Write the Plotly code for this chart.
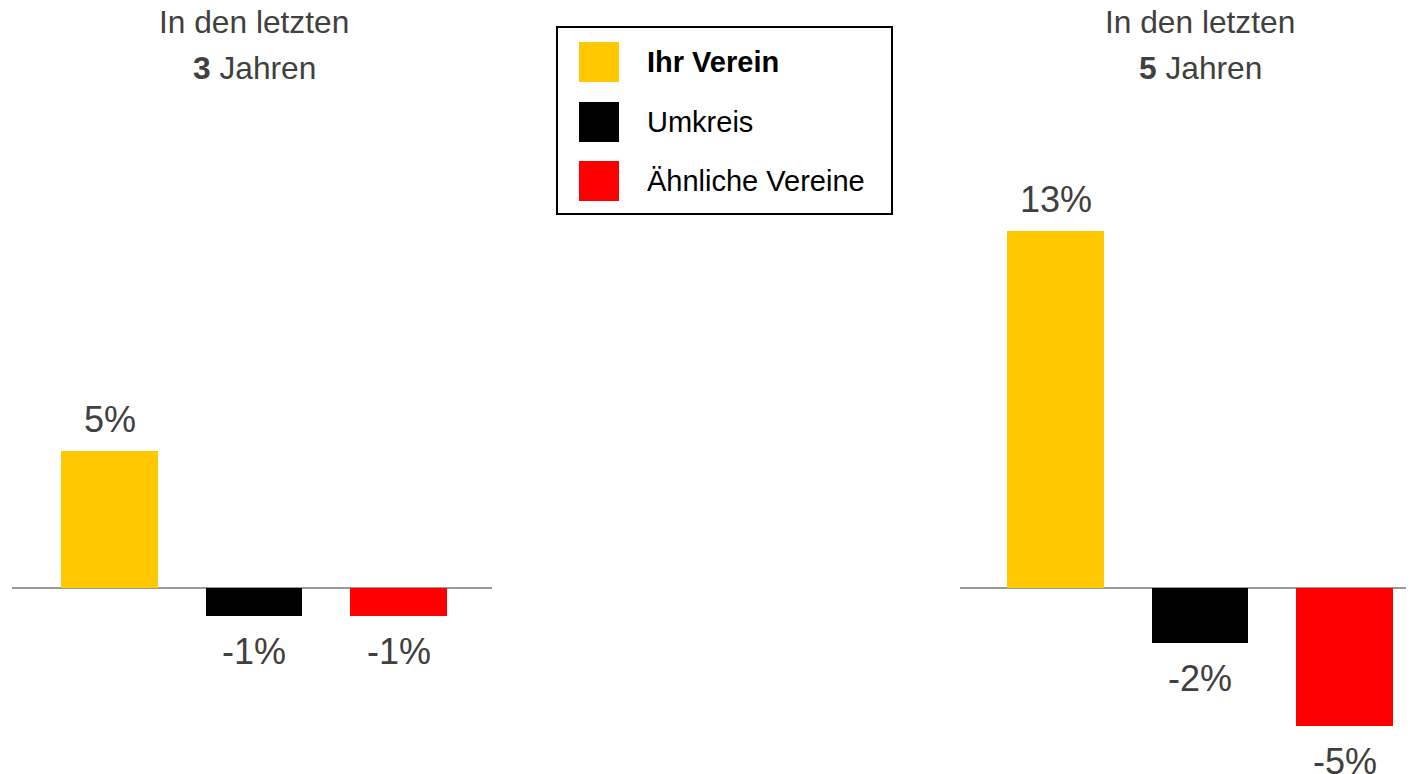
import plotly.graph_objects as go

# Daten
series = ["Ihr Verein", "Umkreis", "Ähnliche Vereine"]
colors = ["#FFC800", "#000000", "#FF0000"]
values_3y = [5, -1, -1]
values_5y = [13, -2, -5]
panel_years = ["3", "5"]

# the page body adds an 8px margin, so the figure is a bit smaller than the window
OFF = 8
W, H = 1414 - OFF, 774 - OFF
TEXT_GREY = "#404040"
FONT = "Liberation Sans, Arial, sans-serif"


def px_x(x):
    return (x - OFF) / W


def px_y(y):
    return 1 - (y - OFF) / H


fig = go.Figure()

positions = [0, 1, 2]
for i, vals in enumerate([values_3y, values_5y]):
    xa = "x" if i == 0 else "x2"
    ya = "y" if i == 0 else "y2"
    fig.add_trace(go.Bar(x=positions, y=vals, marker=dict(color=colors, line=dict(width=0)),
                         width=0.67, xaxis=xa, yaxis=ya, showlegend=False,
                         hoverinfo="y"))
    for p, v in zip(positions, vals):
        fig.add_annotation(x=p, y=v, xref=xa, yref=ya, text=f"{v}%", showarrow=False,
                           yanchor="bottom" if v >= 0 else "top",
                           yshift=9 if v >= 0 else -13,
                           font=dict(size=36, color=TEXT_GREY, family=FONT))
    # Titel der Panels
    fig.add_annotation(x=1, y=px_y(22), xref=xa, yref="paper", text="In den letzten",
                       showarrow=False, yanchor="middle",
                       font=dict(size=31.7, color=TEXT_GREY, family=FONT))
    fig.add_annotation(x=1, y=px_y(68), xref=xa, yref="paper",
                       text=f"<b>{panel_years[i]}</b> Jahren",
                       showarrow=False, yanchor="middle",
                       font=dict(size=31.7, color=TEXT_GREY, family=FONT))

# 27.5 px per percent point, zero line at y=588 (screen px)
zero_px = 588 - OFF
y_range = [-(H - zero_px) / 27.5, zero_px / 27.5]
axis_off = dict(showgrid=False, showticklabels=False, ticks="", showline=False, fixedrange=True)
fig.update_layout(
    width=W, height=H,
    margin=dict(l=0, r=0, t=0, b=0),
    plot_bgcolor="white", paper_bgcolor="white",
    bargap=0,
    xaxis=dict(domain=[px_x(12), px_x(492)], range=[-0.675, 2.647], zeroline=False, **axis_off),
    xaxis2=dict(domain=[px_x(960), 1.0], range=[-0.661, 2.481], zeroline=False, **axis_off),
    yaxis=dict(range=y_range, zeroline=True, zerolinecolor="#999999", zerolinewidth=2, **axis_off),
    yaxis2=dict(range=y_range, anchor="x2", zeroline=True, zerolinecolor="#999999",
                zerolinewidth=2, **axis_off),
)

# Legende (manuell, große Farbfelder)
fig.add_shape(type="rect", xref="paper", yref="paper",
              x0=px_x(557), x1=px_x(892), y0=px_y(214), y1=px_y(27),
              line=dict(color="black", width=2), fillcolor="white")
row_centers = [62, 122, 181]
for name, col, yc in zip(series, colors, row_centers):
    fig.add_shape(type="rect", xref="paper", yref="paper",
                  x0=px_x(579), x1=px_x(619), y0=px_y(yc + 20), y1=px_y(yc - 20),
                  line=dict(width=0), fillcolor=col)
    label = f"<b>{name}</b>" if name == "Ihr Verein" else name
    fig.add_annotation(x=px_x(645), y=px_y(yc), xref="paper", yref="paper", text=label,
                       showarrow=False, xanchor="left", yanchor="middle",
                       font=dict(size=29, color="black", family=FONT))

fig.write_html("out.html")
